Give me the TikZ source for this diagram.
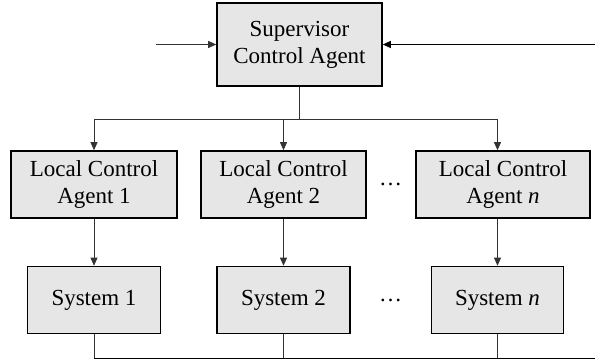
\documentclass[tikz,border=0pt]{standalone}
\usepackage{fontspec}
\setmainfont{Liberation Serif}
\usetikzlibrary{arrows.meta}
\definecolor{boxfill}{HTML}{E6E6E6}
\begin{document}
\begin{tikzpicture}[x=1pt,y=-1pt,
  agentbox/.style={draw=black,line width=1.6pt,fill=boxfill,inner sep=0pt,
    align=center,font=\fontsize{23}{27}\selectfont},
  conn/.style={line width=0.8pt,draw=black!80},
  feed/.style={line width=1.2pt,draw=black},
  arr/.style={-{Triangle[length=8pt,width=7pt]}},
  dotsnode/.style={inner sep=0pt,anchor=base,font=\fontsize{23}{27}\selectfont}]
\useasboundingbox (0,0) rectangle (595,363);
\node[agentbox,minimum width=165pt,minimum height=83pt] (S) at (299.5,44.5) {Supervisor\\Control Agent};
\node[agentbox,minimum width=166pt,minimum height=67pt] (L1) at (94,184.5) {Local Control\\Agent 1};
\node[agentbox,minimum width=165pt,minimum height=67pt] (L2) at (283.5,184.5) {Local Control\\Agent 2};
\node[agentbox,minimum width=174pt,minimum height=67pt] (Ln) at (503,184.5) {Local Control\\Agent \textit{n}};
\node[agentbox,minimum width=133pt,minimum height=67pt] (S1) at (94,300) {System 1};
\node[agentbox,minimum width=133pt,minimum height=67pt] (S2) at (283.5,300) {System 2};
\node[agentbox,minimum width=132pt,minimum height=67pt] (Sn) at (497.5,300) {System \textit{n}};
\node[dotsnode] (d1) at (390.5,186) {\ldots};
\node[dotsnode] (d2) at (390.5,302) {\ldots};
% inputs to supervisor
\coordinate (in) at (156,44.5);
\coordinate (fb) at (595,44.5);
\draw[conn,arr] (in) -- (S.west);
\draw[feed,arr] (fb) -- (S.east);
% distribution bus
\coordinate (bus) at (299.5,119.5);
\coordinate (b1) at (94,119.5);
\coordinate (bn) at (497.5,119.5);
\draw[conn] (S.south) -- (bus);
\draw[conn] (b1) -- (bn);
\draw[conn,arr] (b1) -- (L1.north);
\draw[conn,arr] (L2.north |- bus) -- (L2.north);
\draw[conn,arr] (bn) -- (bn |- Ln.north);
% local to system
\draw[conn,arr] (L1.south) -- (S1.north);
\draw[conn,arr] (L2.south) -- (S2.north);
\draw[conn,arr] (Sn.north |- Ln.south) -- (Sn.north);
% output bus
\coordinate (o1) at (94,358.5);
\coordinate (oe) at (595,358.5);
\draw[conn] (S1.south) -- (o1);
\draw[conn] (S2.south) -- (S2.south |- o1);
\draw[conn] (Sn.south) -- (Sn.south |- o1);
\draw[feed] (o1) -- (oe);
\end{tikzpicture}
\end{document}
